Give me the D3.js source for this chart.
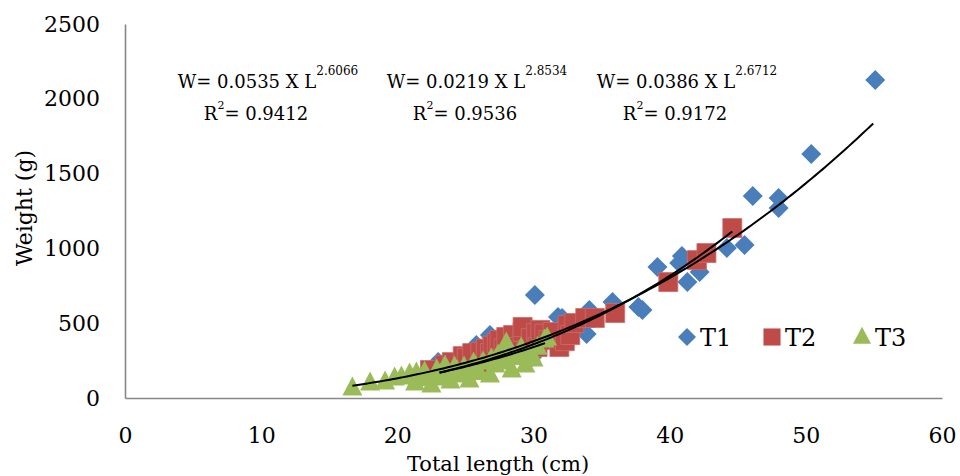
<!DOCTYPE html>
<html>
<head>
<meta charset="utf-8">
<script src="https://cdn.jsdelivr.net/npm/d3@7"></script>
<style>
  html, body { margin: 0; padding: 0; background: #fff; }
  svg { display: block; }
  text { font-family: "DejaVu Serif", Georgia, serif; fill: #000; }
</style>
</head>
<body>
<svg id="chart" width="960" height="476"></svg>
<script>
// --- data (Total length cm, Weight g) ---
var seriesNames = ["T1", "T2", "T3"];
var seriesColors = ["#4A7EBB", "#BE4B48", "#9BBB59"];

var t1Length = [23.0, 25.8, 26.8, 26.9, 29.9, 30.1, 31.8, 32.1, 33.9, 34.1, 35.8, 37.7, 38.0,
                39.1, 40.7, 40.9, 41.3, 42.2, 44.2, 45.5, 46.1, 48.0, 48.0, 50.4, 55.1];
var t1Weight = [241, 354, 421, 408, 274, 688, 541, 535, 428, 588, 642, 608, 588,
                876, 902, 949, 775, 842, 1003, 1023, 1350, 1337, 1270, 1631, 2126];

var t2Length = [22.4, 23.5, 24.0, 24.8, 25.1, 25.5, 26.1, 26.1, 26.5, 26.8, 27.0, 27.3, 27.5, 27.8,
                28.0, 28.5, 28.5, 29.2, 29.2, 29.5, 29.8, 30.2, 30.3, 30.5, 30.8, 31.1, 31.4, 31.9,
                32.3, 32.5, 32.7, 33.0, 33.8, 34.5, 36.0, 39.9, 42.0, 42.7, 44.6];
var t2Weight = [187, 221, 240, 280, 267, 300, 307, 187, 330, 301, 350, 368, 388, 330,
                408, 421, 341, 441, 475, 321, 400, 434, 341, 455, 430, 388, 441, 341,
                380, 488, 421, 501, 535, 535, 568, 775, 922, 969, 1136];

var t3Length = [16.7, 18.0, 19.1, 19.8, 20.3, 20.9, 21.3, 21.4, 21.8, 22.0, 22.5, 22.9, 22.9, 23.1,
                23.5, 23.7, 23.9, 24.2, 24.4, 24.6, 24.9, 25.0, 25.3, 25.6, 25.8, 26.0, 26.3, 26.8,
                26.9, 27.2, 27.4, 27.7, 28.0, 28.0, 28.4, 28.6, 29.0, 29.1, 29.4, 29.8, 30.0, 30.3,
                30.8, 31.0];
var t3Weight = [67, 100, 107, 134, 140, 160, 100, 167, 130, 174, 87, 187, 150, 134,
                214, 170, 114, 207, 180, 154, 207, 175, 120, 234, 200, 170, 241, 154,
                260, 220, 287, 240, 368, 300, 187, 270, 290, 334, 221, 300, 260, 340,
                388, 401];

// power trendlines W = a * L^b, drawn between the lengths Excel used
var fitA = [0.0535, 0.0219, 0.0386];
var fitB = [2.6066, 2.8534, 2.6712];
var fitR2 = ["0.9412", "0.9536", "0.9172"];
var fitFrom = [16.7, 23.1, 23.1];
var fitTo = [55.1, 44.7, 31.0];

var xTicks = [0, 10, 20, 30, 40, 50, 60];
var yTicks = [0, 500, 1000, 1500, 2000, 2500];

// --- layout ---
var svg = d3.select("#chart");
var x = d3.scaleLinear().domain([0, 60]).range([125, 942]);
var y = d3.scaleLinear().domain([0, 2500]).range([398, 24]);

// axes: plain grey lines, no tick marks
svg.append("g")
    .attr("transform", "translate(0,398)")
    .call(d3.axisBottom(x).tickValues(xTicks).tickSize(0).tickPadding(29).tickFormat(d3.format("d")))
    .call(function (g) {
        g.select(".domain").attr("stroke", "#878787").attr("stroke-width", 1.6);
        g.selectAll("text").attr("font-size", 22).attr("font-family", "DejaVu Serif").attr("fill", "#000");
    });

svg.append("g")
    .attr("transform", "translate(125,0)")
    .call(d3.axisLeft(y).tickValues(yTicks).tickSize(0).tickPadding(25).tickFormat(d3.format("d")))
    .call(function (g) {
        g.select(".domain").attr("stroke", "#878787").attr("stroke-width", 1.6);
        g.selectAll("text").attr("font-size", 22).attr("font-family", "DejaVu Serif").attr("fill", "#000");
    });

svg.append("text")
    .attr("x", 498).attr("y", 471)
    .attr("text-anchor", "middle")
    .attr("font-size", 21)
    .text("Total length (cm)");

svg.append("text")
    .attr("transform", "translate(32,208) rotate(-90)")
    .attr("text-anchor", "middle")
    .attr("font-size", 22)
    .text("Weight (g)");

// marker shapes
function markerPath(i) {
    if (i === 0) return "M0,-10L10,0L0,10L-10,0Z";
    if (i === 1) return "M-9.5,-9.5H9.5V9.5H-9.5Z";
    return "M0,-11.5L10,7.5L-10,7.5Z";
}

var allSeries = [
    d3.zip(t1Length, t1Weight),
    d3.zip(t2Length, t2Weight),
    d3.zip(t3Length, t3Weight)
];

allSeries.forEach(function (pts, i) {
    svg.append("g")
        .selectAll("path")
        .data(pts)
        .join("path")
        .attr("transform", function (d) { return "translate(" + x(d[0]) + "," + y(d[1]) + ")"; })
        .attr("d", markerPath(i))
        .attr("fill", seriesColors[i])
        .attr("stroke", i === 1 ? "#C96E6C" : "none")
        .attr("stroke-width", 0.8);
});

// trendlines
var line = d3.line().x(function (d) { return x(d[0]); }).y(function (d) { return y(d[1]); });
fitA.forEach(function (a, i) {
    var pts = d3.range(fitFrom[i], fitTo[i] + 0.01, 0.25).map(function (L) {
        return [L, a * Math.pow(L, fitB[i])];
    });
    svg.append("path")
        .attr("d", line(pts))
        .attr("fill", "none")
        .attr("stroke", "#000")
        .attr("stroke-width", 2);
});

// equation labels
var eqCenter = [268, 477, 687];
fitA.forEach(function (a, i) {
    var t = svg.append("text")
        .attr("x", eqCenter[i]).attr("y", 88)
        .attr("text-anchor", "middle")
        .attr("font-size", 18);
    t.append("tspan").text("W= " + a.toFixed(4) + " X L");
    t.append("tspan").attr("dy", -13).attr("font-size", 12).text(fitB[i].toFixed(4));

    var r = svg.append("text")
        .attr("x", eqCenter[i] - 12).attr("y", 120)
        .attr("text-anchor", "middle")
        .attr("font-size", 18);
    r.append("tspan").text("R");
    r.append("tspan").attr("dy", -11).attr("font-size", 11).text("2");
    r.append("tspan").attr("dy", 11).text("= " + fitR2[i]);
});

// legend
var legendX = [687, 772, 862];
seriesNames.forEach(function (name, i) {
    var g = svg.append("g").attr("transform", "translate(" + legendX[i] + ",337)");
    g.append("path")
        .attr("d", markerPath(i))
        .attr("transform", "scale(0.9)")
        .attr("fill", seriesColors[i]);
    g.append("text")
        .attr("x", 13).attr("y", 9)
        .attr("font-size", 24)
        .text(name);
});
</script>
</body>
</html>
